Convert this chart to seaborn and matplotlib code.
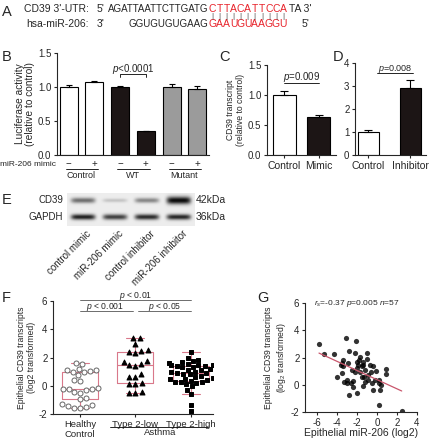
import numpy as np
import pandas as pd
import matplotlib
matplotlib.use("Agg")
import matplotlib.pyplot as plt
import seaborn as sns

sns.set_style("ticks")
plt.rcParams['font.family'] = ['Liberation Sans', 'DejaVu Sans']
plt.rcParams['mathtext.fontset'] = 'custom'
plt.rcParams['mathtext.rm'] = 'Liberation Sans'
plt.rcParams['mathtext.it'] = 'Liberation Sans:italic'
plt.rcParams['axes.unicode_minus'] = False
plt.rcParams['axes.linewidth'] = 0.8
plt.rcParams['xtick.major.width'] = 0.8
plt.rcParams['ytick.major.width'] = 0.8
plt.rcParams['xtick.major.size'] = 2.5
plt.rcParams['ytick.major.size'] = 2.5
plt.rcParams['xtick.major.pad'] = 1.5
plt.rcParams['ytick.major.pad'] = 1.5
plt.rcParams['xtick.labelsize'] = 7
plt.rcParams['ytick.labelsize'] = 7

# ---- data ----
# B: luciferase assay
luc_groups = ["Control", "WT", "Mutant"]
luc_signs = ["−", "+", "−", "+", "−", "+"]
luc_values = [1.00, 1.07, 1.00, 0.35, 1.00, 0.97]
luc_sem = [0.03, 0.015, 0.02, 0.01, 0.05, 0.05]
luc_colors = ["white", "white", "#1c1515", "#1c1515", "#9b9b9b", "#9b9b9b"]

# C: mimic
mimic_labels = ["Control", "Mimic"]
mimic_values = [1.00, 0.64]
mimic_sem = [0.07, 0.03]

# D: inhibitor
inhib_labels = ["Control", "Inhibitor"]
inhib_values = [1.00, 2.92]
inhib_sem = [0.07, 0.36]

# E: western blot band strength
blot_lanes = ["control mimic", "miR-206 mimic", "control inhibitor", "miR-206 inhibitor"]
cd39_band = [0.55, 0.18, 0.45, 1.0]
gapdh_band = [0.95, 0.8, 0.9, 0.92]

# F: epithelial CD39
f_groups = ["Healthy\nControl", "Type 2-low", "Type 2-high"]
healthy = [-1.6, -1.55, -1.5, -1.45, -1.35, -1.3, -0.95, -0.9, -0.5, -0.45, -0.3, -0.25, -0.2,
           -0.2, -0.15, 0.35, 0.4, 0.75, 0.95, 1.0, 1.05, 1.1, 1.15, 1.2, 1.55, 1.6]
type2_low = [-0.5, -0.5, -0.45, 0.1, 0.15, 0.2, 0.6, 0.65, 0.85, 1.4, 1.5, 1.55, 1.7, 1.75,
             2.3, 2.4, 2.45, 2.5, 2.95, 3.35, 3.4]
type2_high = [-1.8, -1.35, -0.6, -0.3, -0.05, 0.1, 0.2, 0.25, 0.3, 0.3, 0.35, 0.4, 0.45, 0.5,
              0.55, 0.6, 0.7, 0.8, 0.85, 0.9, 0.9, 0.95, 1.0, 1.1, 1.15, 1.2, 1.3, 1.35, 1.4,
              1.4, 1.45, 1.5, 1.5, 1.55, 1.6, 1.7, 1.75, 1.85, 1.95, 2.4]

# G: correlation
mir206 = [-5.8, -5.3, -4.3, -3.1, -2.13, -2.77, -2.2, -0.97, -4.03, -3.43, -3.5, -3.37, -3.47,
          -3.27, -3.03, -2.63, -2.77, -2.37, -2.2, -1.97, -1.77, -1.87, -1.53, -1.3, -1.43, -1.97,
          -1.2, -0.87, -0.7, -0.43, -0.37, -0.1, 0.23, 0.37, 0.3, 0.23, 0.9, 0.9, 2.47, -1.03,
          -1.37, -0.87, -0.53, -2.87, -2.53, -1.7, -1.2, -0.2, -2.37, 0.17, -1.37, -1.7, -3.03,
          -3.6, -1.53, -2.03, -0.63]
cd39_g = [2.97, 2.24, 2.27, 3.4, 3.2, 2.5, 2.31, 2.35, 0.6, 1.82, 1.63, 1.34, 0.85, 0.19, 0.1,
          0.15, -0.73, 0.28, 0.9, 1.7, 1.82, 1.46, 1.34, 0.6, 1.46, -0.57, 0.23, 0.34, 1.46, 1.34,
          -0.41, 1.0, 0.34, -0.05, -0.36, -1.46, 1.14, 0.8, -1.9, 1.87, 1.7, 0.73, 0.12, 1.58,
          1.1, 2.07, 1.1, 0.34, -0.14, 0.12, -0.1, 0.95, 0.34, 1.46, 0.6, 1.22, 0.9]

W, H = 431, 440
fig = plt.figure(figsize=(W / 100, H / 100), dpi=100)
RED = "#e8232b"
PINK = "#d9788a"


def add_ax(x0, y0, x1, y1):
    return fig.add_axes([x0 / W, 1 - y1 / H, (x1 - x0) / W, (y1 - y0) / H])


def ftext(x, y, s, **kw):
    kw.setdefault("va", "center")
    kw.setdefault("fontsize", 7)
    fig.text(x / W, 1 - y / H, s, **kw)


# panel letters
for lab, x, y in [("A", 2, 12), ("B", 2, 57), ("C", 219, 57), ("D", 333, 57),
                  ("E", 2, 200), ("F", 2, 298), ("G", 257, 298)]:
    ftext(x, y, lab, fontsize=10.5)

# ---- A: sequences ----
ftext(24, 9, "CD39 3'-UTR:", fontsize=7.5)
ftext(26, 24, "hsa-miR-206:", fontsize=7.5)
ftext(97, 9, "5'", fontsize=7.5)
ftext(208, 9, "AGATTAATTCTTGATG", ha="right", fontsize=7)
ftext(97, 24, "3'", fontsize=7.5)
ftext(208, 24, "GGUGUGUGAAG", ha="right", fontsize=7)
top_red = "CTTACATTCCA"
bot_red = "GAAUGUAAGGU"
pitch = 7.05
for i, (a, b) in enumerate(zip(top_red, bot_red)):
    xc = 212.5 + i * pitch
    ftext(xc, 9, a, ha="center", color=RED, fontsize=7.5)
    ftext(xc, 24, b, ha="center", color=RED, fontsize=7.5)
    ftext(xc, 16.5, "|", ha="center", fontsize=6, color="#444444")
ftext(289, 9, "TA 3'", fontsize=7.5)
ftext(302, 24, "5'", fontsize=7.5)

# ---- B: luciferase ----
axb = add_ax(57, 53, 209, 155)
bar_ids = [g + s for g in luc_groups for s in ("-", "+")]
dfb = pd.DataFrame({"bar": bar_ids, "value": luc_values})
sns.barplot(data=dfb, x="bar", y="value", hue="bar", palette=luc_colors, legend=False,
            width=0.7, saturation=1, edgecolor="black", linewidth=0.8, ax=axb)
axb.errorbar(np.arange(6), luc_values, yerr=[np.zeros(6), luc_sem], fmt="none",
             ecolor="black", elinewidth=0.8, capsize=2.5, capthick=0.8)
axb.set_xlim(-0.45, 5.45)
axb.set_ylim(0, 1.5)
axb.set_yticks([0, 0.5, 1.0, 1.5], ["0.0", "0.5", "1.0", "1.5"])
axb.set_xticks([])
axb.set_xlabel("")
axb.set_ylabel("Luciferase activity\n(relative to control)", fontsize=7.3, labelpad=2,
               linespacing=1.0)
sns.despine(ax=axb)
trb = axb.get_xaxis_transform()
for i, s in enumerate(luc_signs):
    axb.text(i, -0.088, s, transform=trb, ha="center", va="center", fontsize=7)
for k, g in enumerate(luc_groups):
    axb.plot([2 * k - 0.12, 2 * k + 1.15], [-0.135, -0.135], transform=trb, color="black",
             lw=0.6, clip_on=False)
    axb.text(2 * k + 0.5, -0.2, g, transform=trb, ha="center", va="center", fontsize=6.5)
ftext(56, 164, "miR-206 mimic", ha="right", fontsize=6)
axb.plot([2, 2, 3, 3], [1.15, 1.19, 1.19, 1.15], color="black", lw=0.6)
axb.text(2.5, 1.26, "$p$<0.0001", ha="center", va="center", fontsize=7)

# ---- C: mimic ----
axc = add_ax(267, 65, 336, 155)
dfc = pd.DataFrame({"group": mimic_labels, "value": mimic_values})
sns.barplot(data=dfc, x="group", y="value", hue="group", palette=["white", "#1c1515"],
            legend=False, width=0.68, saturation=1, edgecolor="black", linewidth=0.8, ax=axc)
axc.errorbar(np.arange(2), mimic_values, yerr=[np.zeros(2), mimic_sem], fmt="none",
             ecolor="black", elinewidth=0.8, capsize=3, capthick=0.8)
axc.set_xlim(-0.51, 1.51)
axc.set_ylim(0, 1.5)
axc.set_yticks([0, 0.5, 1.0, 1.5], ["0.0", "0.5", "1.0", "1.5"])
axc.tick_params(axis="x", labelsize=7.5)
axc.set_xlabel("")
axc.set_ylabel("CD39 transcript\n(relative to control)", fontsize=6.2, labelpad=2)
sns.despine(ax=axc)
axc.plot([0, 1], [1.2, 1.2], color="black", lw=0.6)
axc.text(0.5, 1.3, "$p$=0.009", ha="center", va="center", fontsize=7)

# ---- D: inhibitor ----
axd = add_ax(355, 63, 426, 155)
dfd = pd.DataFrame({"group": inhib_labels, "value": inhib_values})
sns.barplot(data=dfd, x="group", y="value", hue="group", palette=["white", "#1c1515"],
            legend=False, width=0.52, saturation=1, edgecolor="black", linewidth=0.8, ax=axd)
axd.errorbar(np.arange(2), inhib_values, yerr=[np.zeros(2), inhib_sem], fmt="none",
             ecolor="black", elinewidth=0.8, capsize=3, capthick=0.8)
axd.set_xlim(-0.32, 1.37)
axd.set_ylim(0, 4)
axd.set_yticks([0, 1, 2, 3, 4])
axd.tick_params(axis="x", labelsize=7.5)
axd.set_xlabel("")
axd.set_ylabel("")
sns.despine(ax=axd)
axd.plot([0.2, 1.05], [3.57, 3.57], color="black", lw=0.6)
axd.text(0.63, 3.76, "$p$=0.008", ha="center", va="center", fontsize=6.5)

# ---- E: western blot ----
axe = add_ax(67, 193, 195, 226)
bx = np.linspace(-0.5, 3.5, 256)
by = np.linspace(0, 1, 66)
img = np.full((by.size, bx.size), 0.93)
for i, (a, b) in enumerate(zip(cd39_band, gapdh_band)):
    lane = np.exp(-((bx - i) / 0.38) ** 6)
    cd_y = np.exp(-((by - 0.22) / (0.045 + 0.07 * a)) ** 2)
    gp_y = np.exp(-((by - 0.73) / 0.085) ** 2)
    img -= 0.9 * a * np.outer(cd_y, lane) + 0.85 * b * np.outer(gp_y, lane)
img = np.clip(img, 0.05, 1)
axe.imshow(img, cmap="gray", vmin=0, vmax=1, extent=(-0.5, 3.5, 1, 0), aspect="auto")
axe.axis("off")
for i, lane_name in enumerate(blot_lanes):
    axe.text(i + 0.1, 1.08, lane_name, rotation=45, rotation_mode="anchor", ha="right",
             va="top", fontsize=7, clip_on=False)
ftext(63, 200, "CD39", ha="right")
ftext(63, 217, "GAPDH", ha="right")
ftext(196, 200, "42kDa", fontsize=7.5)
ftext(196, 217, "36kDa", fontsize=7.5)

# ---- F: box plot ----
axf = add_ax(53, 301, 213, 414)
dff = pd.DataFrame({
    "group": [f_groups[0]] * len(healthy) + [f_groups[1]] * len(type2_low)
             + [f_groups[2]] * len(type2_high),
    "value": healthy + type2_low + type2_high,
})
sns.boxplot(data=dff, x="group", y="value", order=f_groups, width=0.65, showfliers=False,
            fill=False, color=PINK, linewidth=0.8, ax=axf)
marker_style = [("o", "white", "#666666", 3.6), ("^", "black", "black", 3.6),
                ("s", "black", "black", 3.3)]
for g, (m, fc, ec, sz) in zip(f_groups, marker_style):
    sns.swarmplot(data=dff[dff["group"] == g], x="group", y="value", order=f_groups,
                  marker=m, color=fc, edgecolor=ec, linewidth=0.7, size=sz, ax=axf)
axf.set_xlim(-0.49, 2.4)
axf.set_ylim(-2, 6)
axf.set_yticks([-2, 0, 2, 4, 6])
axf.set_xlabel("")
axf.tick_params(axis="x", labelsize=6.8)
axf.set_ylabel("Epithelial CD39 transcripts\n(log2 transformed)", fontsize=6.2, labelpad=2)
sns.despine(ax=axf)
for x0, x1, y, ty, tx, txt in [(0, 2, 6.07, 6.35, 1.0, "$p$ < 0.01"),
                               (0, 0.95, 5.29, 5.57, 0.45, "$p$ < 0.001"),
                               (1.05, 2, 5.29, 5.57, 1.53, "$p$ < 0.05")]:
    axf.plot([x0, x1], [y, y], color="#555555", lw=0.6, clip_on=False)
    axf.text(tx, ty, txt, ha="center", va="center", fontsize=6.2)
trf = axf.get_xaxis_transform()
axf.plot([0.54, 2.31], [-0.115, -0.115], transform=trf, color="black", lw=0.6, clip_on=False)
axf.text(1.44, -0.165, "Asthma", transform=trf, ha="center", va="center", fontsize=6.8)

# ---- G: correlation ----
axg = add_ax(305, 303, 417, 412)
sns.regplot(x=mir206, y=cd39_g, ci=None, ax=axg,
            scatter_kws={"s": 14, "color": "black", "linewidths": 0},
            line_kws={"color": "#c9566c", "lw": 0.9})
axg.set_xlim(-7.2, 4)
axg.set_ylim(-2, 6)
axg.set_xticks([-6, -4, -2, 0, 2, 4])
axg.set_yticks([-2, 0, 2, 4, 6])
axg.set_xlabel("Epithelial miR-206 (log2)", fontsize=7.5, labelpad=0)
axg.set_ylabel("Epithelial CD39 transcripts\n(log$_2$ transformed)", fontsize=6.2, labelpad=2)
sns.despine(ax=axg)
axg.text(0.46, 1.0, "$r_s$=-0.37 $p$=0.005 $n$=57", transform=axg.transAxes, ha="center",
         va="center", fontsize=6)

fig.savefig("out.png", dpi=100)
